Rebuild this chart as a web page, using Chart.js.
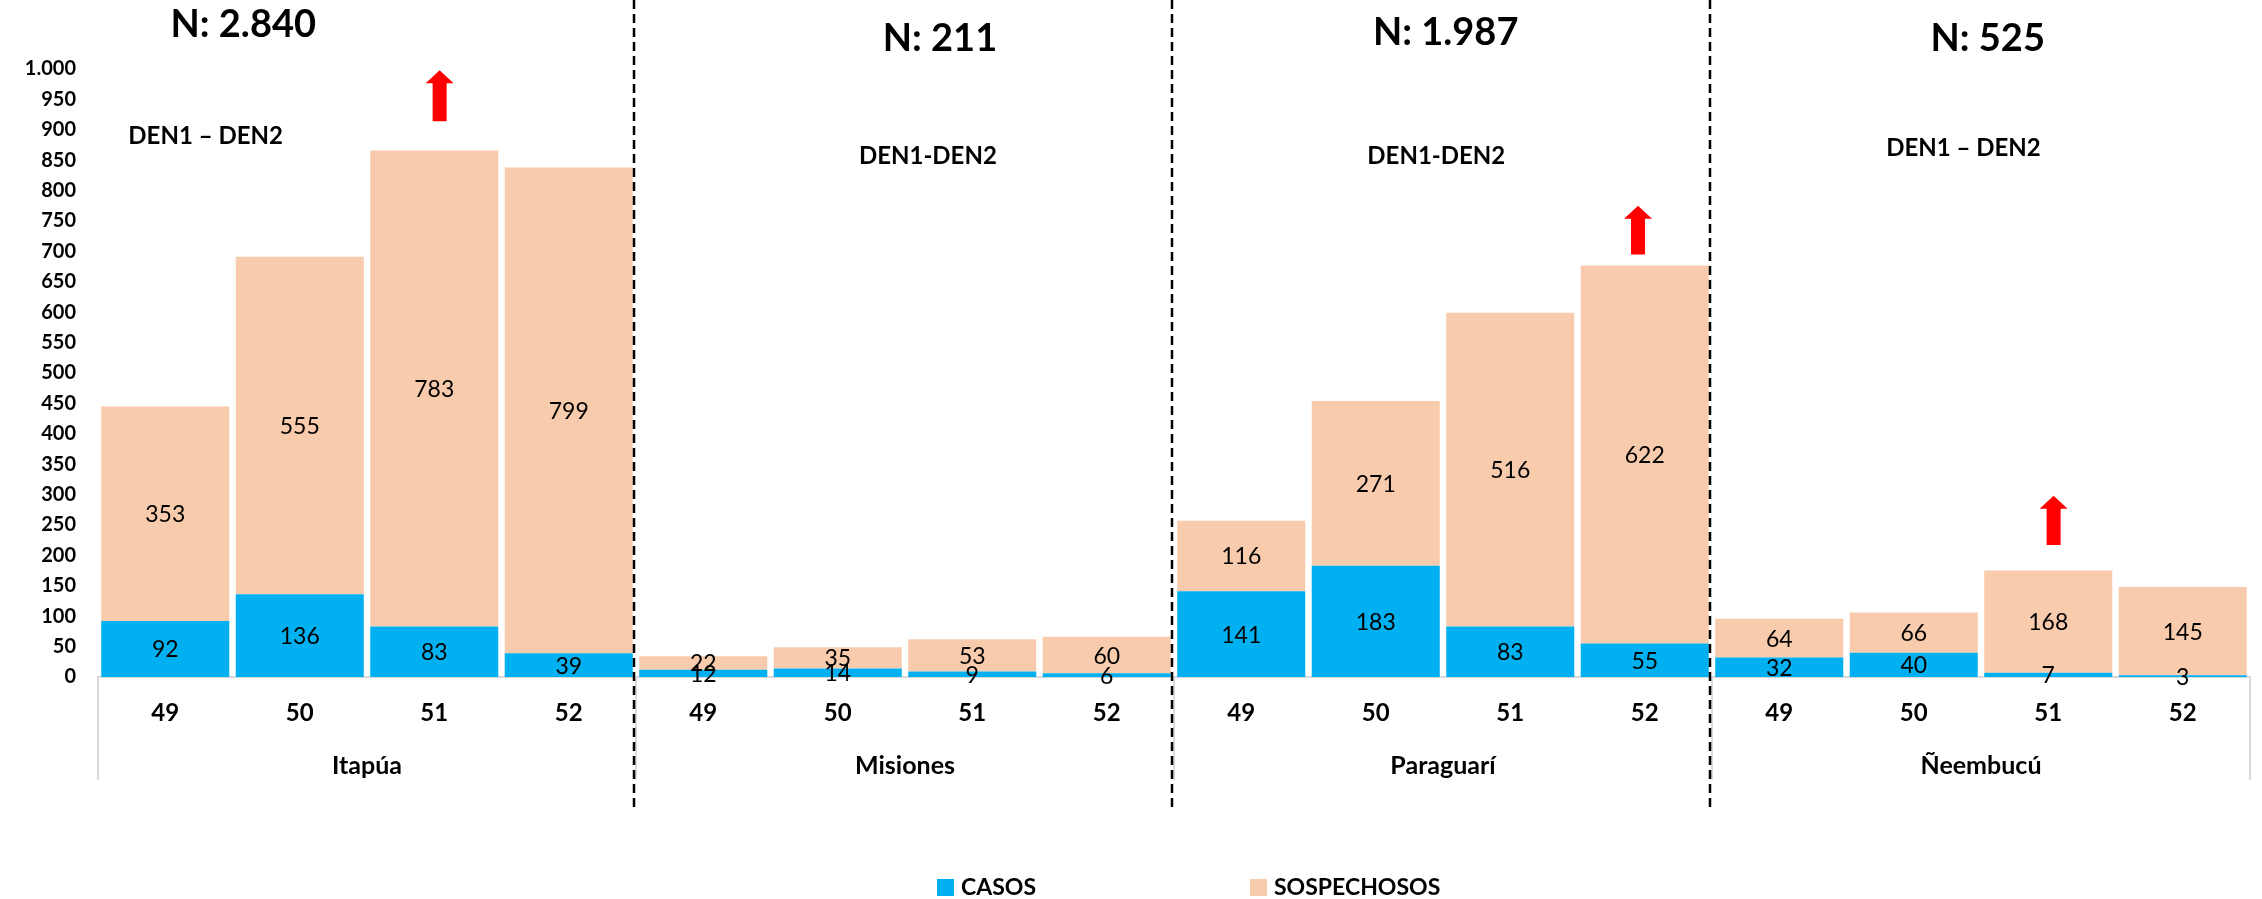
<!DOCTYPE html>
<html>
<head>
<meta charset="utf-8">
<script src="https://cdn.jsdelivr.net/npm/chart.js@4.4.1/dist/chart.umd.min.js"></script>
<style>
  html, body { margin: 0; padding: 0; background: #fff; }
  canvas { display: block; }
</style>
</head>
<body>
<canvas id="chart" width="2262" height="899"></canvas>
<script>
// Epidemiological weeks and departments
const weeks = ['49', '50', '51', '52'];
const departments = ['Itapúa', 'Misiones', 'Paraguarí', 'Ñeembucú'];
// values per week, departments in order
const casos = [92, 136, 83, 39, 12, 14, 9, 6, 141, 183, 83, 55, 32, 40, 7, 3];
const sospechosos = [353, 555, 783, 799, 22, 35, 53, 60, 116, 271, 516, 622, 64, 66, 168, 145];
const totals = ['N: 2.840', 'N: 211', 'N: 1.987', 'N: 525'];
const serotypes = ['DEN1 – DEN2', 'DEN1-DEN2', 'DEN1-DEN2', 'DEN1 – DEN2'];

// text box / arrow placement, in [category index, y value]
const totalPos = [[0.58, 1073], [5.76, 1049], [9.52, 1059], [13.55, 1049]];
const serotypePos = [[0.30, 889], [5.67, 856], [9.45, 856], [13.37, 869]];
const arrowX = [2.04, 10.95, 14.04];
const arrowRange = [[914, 998], [695, 775], [217, 298]];

const FONT = 'Lato, "Open Sans", sans-serif';
const fmt = v => String(v).replace(/\B(?=(\d{3})+(?!\d))/g, '.');

const overlay = {
  id: 'overlay',
  afterDatasetsDraw(chart) {
    const ctx = chart.ctx;
    ctx.save();
    ctx.font = '23px ' + FONT;
    ctx.fillStyle = '#000';
    ctx.textAlign = 'center';
    ctx.textBaseline = 'middle';
    chart.data.datasets.forEach((ds, di) => {
      chart.getDatasetMeta(di).data.forEach((bar, i) => {
        ctx.fillText(ds.data[i], bar.x, (bar.y + bar.base) / 2 + 1);
      });
    });
    ctx.restore();
  },
  afterDraw(chart) {
    const {ctx, scales: {x, y}} = chart;
    const zero = y.getPixelForValue(0);
    ctx.save();

    // grey frame of the category axis
    ctx.strokeStyle = '#D9D9D9';
    ctx.lineWidth = 2;
    for (let k = 0; k <= departments.length; k++) {
      const bx = Math.round(x.getPixelForValue(k * weeks.length - 0.5));
      ctx.beginPath();
      ctx.moveTo(bx, zero);
      ctx.lineTo(bx, 780);
      ctx.stroke();
    }

    // dashed separators between departments
    ctx.strokeStyle = '#000';
    ctx.lineWidth = 2.5;
    ctx.setLineDash([9, 5]);
    for (let k = 1; k < departments.length; k++) {
      const bx = Math.round(x.getPixelForValue(k * weeks.length - 0.5)) - 2;
      ctx.beginPath();
      ctx.moveTo(bx, 0);
      ctx.lineTo(bx, 808);
      ctx.stroke();
    }
    ctx.setLineDash([]);

    // N totals and serotype notes
    ctx.fillStyle = '#000';
    ctx.textAlign = 'center';
    ctx.textBaseline = 'middle';
    ctx.font = 'bold 38px ' + FONT;
    totals.forEach((t, i) => {
      ctx.fillText(t, x.getPixelForValue(totalPos[i][0]), y.getPixelForValue(totalPos[i][1]));
    });
    ctx.font = 'bold 24px ' + FONT;
    serotypes.forEach((t, i) => {
      ctx.fillText(t, x.getPixelForValue(serotypePos[i][0]), y.getPixelForValue(serotypePos[i][1]));
    });

    // red arrows
    ctx.fillStyle = '#FF0000';
    arrowX.forEach((ax, i) => {
      const cx = x.getPixelForValue(ax);
      const y0 = y.getPixelForValue(arrowRange[i][0]);
      const y1 = y.getPixelForValue(arrowRange[i][1]);
      const head = 13, hw = 14, sw = 7;
      ctx.beginPath();
      ctx.moveTo(cx - sw, y0);
      ctx.lineTo(cx - sw, y1 + head);
      ctx.lineTo(cx - hw, y1 + head);
      ctx.lineTo(cx, y1);
      ctx.lineTo(cx + hw, y1 + head);
      ctx.lineTo(cx + sw, y1 + head);
      ctx.lineTo(cx + sw, y0);
      ctx.closePath();
      ctx.fill();
    });

    // legend
    const legendX = [937, 1250];
    const ly = 887;
    ctx.font = 'bold 23px ' + FONT;
    ctx.textAlign = 'left';
    chart.data.datasets.forEach((ds, i) => {
      ctx.fillStyle = ds.backgroundColor;
      ctx.fillRect(legendX[i], ly - 8, 17, 17);
      ctx.fillStyle = '#000';
      ctx.fillText(ds.label, legendX[i] + 24, ly + 1);
    });
    ctx.restore();
  }
};

function draw() {
  const tickFont = size => ({family: FONT, size: size, weight: 'bold'});
  new Chart(document.getElementById('chart'), {
    type: 'bar',
    data: {
      labels: departments.flatMap(() => weeks),
      datasets: [
        {label: 'CASOS', data: casos, backgroundColor: '#00B0F0'},
        {label: 'SOSPECHOSOS', data: sospechosos, backgroundColor: '#F8CBAD'}
      ]
    },
    options: {
      responsive: false,
      animation: false,
      layout: {padding: {top: 69, right: 12, bottom: 102, left: 0}},
      datasets: {bar: {barPercentage: 0.952, categoryPercentage: 1, borderWidth: 0}},
      plugins: {legend: {display: false}, tooltip: {enabled: false}},
      scales: {
        x: {
          stacked: true, weight: 0,
          grid: {display: false, drawTicks: false},
          border: {display: true, color: '#D9D9D9', width: 2},
          ticks: {font: tickFont(24), color: '#000', padding: 22, maxRotation: 0, autoSkip: false},
          afterFit(s) { s.height = 60; }
        },
        x2: {
          type: 'category', position: 'bottom', labels: departments, offset: true, weight: 1,
          grid: {display: false, drawTicks: false},
          border: {display: false},
          ticks: {font: tickFont(25), color: '#000', padding: 14},
          afterFit(s) { s.height = 60; }
        },
        y: {
          stacked: true, min: 0, max: 1000,
          grid: {display: false, drawTicks: false},
          border: {display: false},
          ticks: {stepSize: 50, callback: v => fmt(v), font: tickFont(20), color: '#000', padding: 22},
          afterFit(s) { s.width = 98; }
        }
      }
    },
    plugins: [overlay]
  });
}

Promise.all([
  document.fonts.load('bold 22px Lato'),
  document.fonts.load('22px Lato')
]).then(draw, draw);
</script>
</body>
</html>
